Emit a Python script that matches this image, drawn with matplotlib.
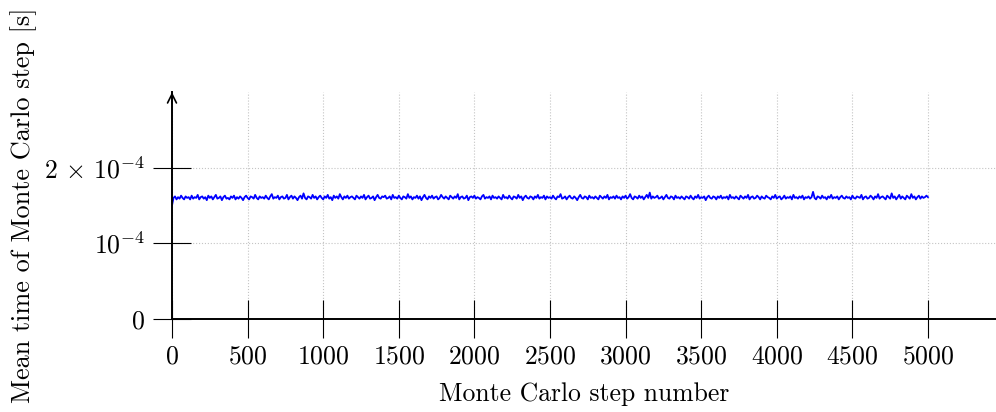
import matplotlib
matplotlib.use("Agg")
import matplotlib.pyplot as plt

plt.rcParams['mathtext.fontset'] = 'cm'
plt.rcParams['font.family'] = ['cmr10', 'DejaVu Serif']
plt.rcParams['axes.unicode_minus'] = False
plt.rcParams['axes.formatter.use_mathtext'] = True

# Monte Carlo step numbers (every 10th step shown) and mean step time in units of 1e-4 s
step_interval = 10
mean_time_1e4 = [
    1.50, 1.60, 1.62, 1.58, 1.61, 1.59, 1.63, 1.60, 1.58, 1.62, 1.60, 1.61, 1.58, 1.63, 1.59, 1.61, 1.60, 1.64, 1.58, 1.61,
    1.62, 1.59, 1.61, 1.57, 1.63, 1.60, 1.62, 1.58, 1.61, 1.64, 1.59, 1.60, 1.62, 1.57, 1.61, 1.63, 1.59, 1.60, 1.58, 1.62,
    1.60, 1.63, 1.58, 1.61, 1.59, 1.62, 1.60, 1.57, 1.61, 1.63, 1.60, 1.58, 1.62, 1.61, 1.59, 1.64, 1.60, 1.58, 1.62, 1.60,
    1.61, 1.59, 1.63, 1.60, 1.58, 1.62, 1.65, 1.59, 1.61, 1.60, 1.63, 1.58, 1.61, 1.62, 1.59, 1.60, 1.64, 1.58, 1.61, 1.63,
    1.59, 1.62, 1.60, 1.57, 1.61, 1.63, 1.59, 1.66, 1.60, 1.58, 1.62, 1.61, 1.59, 1.64, 1.60, 1.62, 1.58, 1.61, 1.63, 1.60,
    1.58, 1.62, 1.60, 1.64, 1.59, 1.61, 1.57, 1.63, 1.60, 1.62, 1.59, 1.65, 1.61, 1.58, 1.62, 1.60, 1.63, 1.59, 1.61, 1.62,
    1.60, 1.58, 1.63, 1.61, 1.59, 1.62, 1.60, 1.64, 1.58, 1.61, 1.63, 1.59, 1.60, 1.62, 1.57, 1.61, 1.64, 1.60, 1.59, 1.62,
    1.61, 1.63, 1.59, 1.60, 1.62, 1.58, 1.64, 1.60, 1.61, 1.59, 1.63, 1.60, 1.58, 1.62, 1.61, 1.59, 1.65, 1.60, 1.62, 1.58,
    1.61, 1.60, 1.63, 1.59, 1.62, 1.57, 1.61, 1.64, 1.60, 1.58, 1.62, 1.60, 1.63, 1.59, 1.61, 1.62, 1.58, 1.60, 1.64, 1.61,
    1.59, 1.62, 1.60, 1.58, 1.63, 1.61, 1.59, 1.62, 1.60, 1.65, 1.58, 1.61, 1.62, 1.59, 1.60, 1.63, 1.57, 1.61, 1.62, 1.60,
    1.63, 1.59, 1.61, 1.60, 1.58, 1.62, 1.64, 1.59, 1.61, 1.60, 1.62, 1.58, 1.63, 1.60, 1.61, 1.59, 1.62, 1.60, 1.58, 1.64,
    1.60, 1.61, 1.59, 1.63, 1.60, 1.58, 1.62, 1.61, 1.59, 1.64, 1.60, 1.62, 1.57, 1.61, 1.63, 1.60, 1.59, 1.62, 1.61, 1.58,
    1.62, 1.60, 1.64, 1.59, 1.61, 1.60, 1.63, 1.58, 1.62, 1.60, 1.61, 1.59, 1.63, 1.60, 1.58, 1.62, 1.61, 1.65, 1.59, 1.60,
    1.62, 1.58, 1.61, 1.63, 1.60, 1.59, 1.62, 1.60, 1.57, 1.61, 1.64, 1.60, 1.59, 1.62, 1.61, 1.58, 1.63, 1.60, 1.61, 1.59,
    1.62, 1.60, 1.58, 1.63, 1.61, 1.59, 1.62, 1.60, 1.64, 1.58, 1.61, 1.60, 1.62, 1.59, 1.63, 1.60, 1.61, 1.58, 1.62, 1.60,
    1.63, 1.59, 1.61, 1.65, 1.60, 1.58, 1.62, 1.61, 1.59, 1.63, 1.60, 1.62, 1.58, 1.61, 1.64, 1.60, 1.67, 1.59, 1.62, 1.60,
    1.61, 1.63, 1.59, 1.60, 1.62, 1.58, 1.61, 1.64, 1.60, 1.59, 1.62, 1.61, 1.58, 1.63, 1.60, 1.61, 1.59, 1.62, 1.60, 1.58,
    1.62, 1.61, 1.59, 1.63, 1.60, 1.58, 1.62, 1.60, 1.64, 1.59, 1.61, 1.60, 1.62, 1.57, 1.61, 1.63, 1.60, 1.59, 1.62, 1.61,
    1.58, 1.62, 1.60, 1.63, 1.59, 1.61, 1.60, 1.62, 1.58, 1.64, 1.60, 1.61, 1.59, 1.62, 1.60, 1.58, 1.63, 1.61, 1.59, 1.62,
    1.60, 1.64, 1.58, 1.61, 1.62, 1.59, 1.60, 1.63, 1.61, 1.58, 1.62, 1.60, 1.59, 1.63, 1.61, 1.60, 1.58, 1.62, 1.60, 1.64,
    1.59, 1.61, 1.62, 1.58, 1.60, 1.63, 1.59, 1.61, 1.60, 1.62, 1.58, 1.64, 1.60, 1.61, 1.59, 1.62, 1.60, 1.63, 1.58, 1.61,
    1.60, 1.62, 1.59, 1.61, 1.68, 1.60, 1.58, 1.62, 1.61, 1.59, 1.63, 1.60, 1.61, 1.58, 1.62, 1.60, 1.64, 1.59, 1.61, 1.60,
    1.62, 1.58, 1.61, 1.63, 1.60, 1.59, 1.62, 1.60, 1.61, 1.58, 1.63, 1.60, 1.59, 1.62, 1.61, 1.60, 1.64, 1.58, 1.61, 1.62,
    1.59, 1.60, 1.63, 1.61, 1.58, 1.62, 1.60, 1.65, 1.59, 1.61, 1.62, 1.60, 1.58, 1.63, 1.61, 1.59, 1.66, 1.60, 1.62, 1.58,
    1.61, 1.64, 1.59, 1.62, 1.60, 1.58, 1.63, 1.61, 1.59, 1.65, 1.60, 1.62, 1.58, 1.61, 1.63, 1.59, 1.62, 1.60, 1.61, 1.63,
    1.61,
]
steps = [i * step_interval for i in range(len(mean_time_1e4))]

x_ticks = [0, 500, 1000, 1500, 2000, 2500, 3000, 3500, 4000, 4500, 5000]
x_tick_labels = ['$0$', '$500$', '$1000$', '$1500$', '$2000$', '$2500$', '$3000$', '$3500$', '$4000$', '$4500$', '$5000$']
y_ticks = [0, 1, 2]
y_tick_labels = ['$0$', r'$10^{-4}$', r'$2\,\times\,10^{-4}$']

x_label = 'Monte Carlo step number'
y_label = 'Mean time of Monte Carlo step [s]'

FS = 18.5
W, H = 996, 412
fig = plt.figure(figsize=(W / 100, H / 100), dpi=100)
ax_left, ax_right = 172 / W, 1.0
ax_bottom = (H - 318.7) / H
ax_top = (H - (318.7 - 3.0 * 75.5)) / H
ax = fig.add_axes([ax_left, ax_bottom, ax_right - ax_left, ax_top - ax_bottom])

ax.plot(steps, mean_time_1e4, color='#0000ff', lw=1.3, zorder=3)

ax.set_xlim(0, 5450)
ax.set_ylim(0, 3.0)

ax.set_xticks(x_ticks)
ax.set_xticklabels(x_tick_labels, fontsize=FS)
ax.set_yticks(y_ticks)
ax.set_yticklabels(y_tick_labels, fontsize=FS)

ax.tick_params(axis='both', direction='inout', length=27, width=0.8, color='black')
ax.tick_params(axis='x', pad=5)
ax.tick_params(axis='y', pad=6)

ax.grid(True, linestyle=':', color='#c4c4c4', lw=0.8, zorder=0)
ax.set_axisbelow(True)

for s in ['top', 'right']:
    ax.spines[s].set_visible(False)
for s in ['left', 'bottom']:
    ax.spines[s].set_linewidth(1.4)
    ax.spines[s].set_color('black')
    ax.spines[s].set_zorder(4)

# arrow head at top of y axis
ax.annotate('', xy=(0, 1.0), xycoords=('data', 'axes fraction'),
            xytext=(0, 0.95), textcoords=('data', 'axes fraction'),
            arrowprops=dict(arrowstyle='->', lw=1.2, color='black',
                            mutation_scale=16, shrinkA=0, shrinkB=0),
            annotation_clip=False, zorder=5)

ax.set_xlabel(x_label, fontsize=FS)
ax.set_ylabel(y_label, fontsize=18.9)
ax.xaxis.set_label_coords(0.5, -0.28)
ax.yaxis.set_label_coords(-0.164, 0.5)

fig.savefig('out.png', dpi=100)
